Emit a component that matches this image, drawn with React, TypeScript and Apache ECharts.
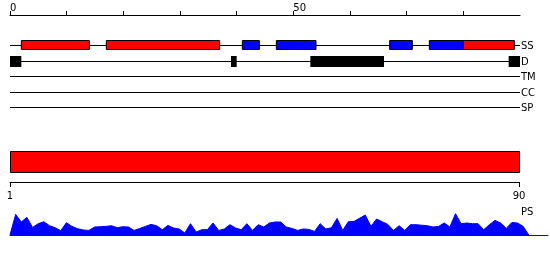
import React, { useEffect, useRef } from "react";
import * as echarts from "echarts";

// ---- data ----
const rulerTicks = [0, 10, 20, 30, 40, 50, 60, 70, 80];
const rulerLabels = [0, 50];
const tracks = ["SS", "D", "TM", "CC", "SP"];
const helices = [
  [2, 14],
  [17, 37],
  [80, 89],
];
const strands = [
  [41, 44],
  [47, 54],
  [67, 71],
  [74, 80],
];
const disorder = [
  [0, 2],
  [39, 40],
  [53, 66],
  [88, 90],
];
const sequenceRange = [1, 90];
const psValues = [
  0, 20.6, 13, 17.6, 7.6, 11.3, 13.3, 9.3, 7.3, 4.3, 12.3, 8.6, 6.3, 5, 4.6, 8,
  8.3, 8.6, 9.3, 7.3, 8.3, 8, 4.6, 6.5, 8.6, 10.6, 9.3, 5.3, 9.6, 7, 6, 2, 11.3,
  3, 5.3, 5.3, 12, 4.6, 6, 10.3, 7, 5.3, 11.3, 4.6, 10.3, 8, 12, 13, 13, 8, 6.6,
  4.6, 6, 5.6, 3.6, 11.3, 6, 7.3, 16.6, 4.6, 13.3, 13.6, 16.8, 20, 8.6, 16, 13.3,
  10.6, 4.6, 9.3, 4.6, 10.3, 10.3, 9.8, 9.3, 8, 8.6, 12, 8, 21.3, 11.3, 12, 11.3,
  11.3, 5.3, 10.3, 14.6, 12, 6.6, 12.6, 12, 8.6, 0,
];

const FONT = "DejaVu Sans";

function featureSeries(
  items: number[][],
  track: string,
  fill: string,
  stroke: string | null,
  half: number
) {
  const ti = tracks.indexOf(track);
  return {
    type: "custom",
    xAxisIndex: 0,
    yAxisIndex: 0,
    encode: { x: [0, 1], y: 2 },
    data: items.map((d) => [d[0], d[1], ti]),
    renderItem: (params: any, api: any) => {
      const a = api.coord([api.value(0), api.value(2)]);
      const b = api.coord([api.value(1), api.value(2)]);
      const c = Math.floor(a[1]);
      if (stroke) {
        return {
          type: "rect",
          shape: { x: a[0], y: c - half + 0.5, width: b[0] - a[0], height: half * 2 - 1 },
          style: { fill, stroke, lineWidth: 1 },
        };
      }
      return {
        type: "rect",
        shape: { x: a[0], y: c - half, width: b[0] - a[0], height: half * 2 + 1 },
        style: { fill },
      };
    },
  };
}

export default function App() {
  const ref = useRef<HTMLDivElement>(null);
  useEffect(() => {
    const chart = echarts.init(ref.current!, null, { renderer: "svg" });
    const option: any = {
      animation: false,
      textStyle: { fontFamily: FONT, fontSize: 10, color: "#000" },
      grid: [
        { left: 10, top: 45.5, width: 510, height: 62 },
        { left: 10, top: 151, width: 509, height: 21 },
        { left: 10, top: 210, width: 538, height: 25 },
      ],
      xAxis: [
        {
          gridIndex: 0,
          type: "value",
          position: "top",
          offset: 30.5,
          min: 0,
          max: 90,
          axisLine: { show: true, onZero: false, lineStyle: { color: "#000", width: 1 } },
          axisTick: {
            show: true,
            customValues: rulerTicks,
            length: 4,
            lineStyle: { color: "#000", width: 1 },
          },
          axisLabel: {
            show: true,
            customValues: rulerLabels,
            align: "left",
            margin: 3,
            color: "#000",
            fontFamily: FONT,
            fontSize: 10,
          },
          splitLine: { show: false },
        },
        {
          gridIndex: 1,
          type: "value",
          position: "bottom",
          offset: 10,
          min: 1,
          max: 90,
          axisLine: { show: true, onZero: false, lineStyle: { color: "#000", width: 1 } },
          axisTick: {
            show: true,
            customValues: sequenceRange,
            length: 5,
            lineStyle: { color: "#000", width: 1 },
          },
          axisLabel: {
            show: true,
            customValues: sequenceRange,
            margin: 8,
            color: "#000",
            fontFamily: FONT,
            fontSize: 10,
          },
          splitLine: { show: false },
        },
        {
          gridIndex: 2,
          type: "value",
          min: 0,
          max: 95.4,
          axisLine: { show: true, onZero: false, lineStyle: { color: "#0000ff", width: 1 } },
          axisTick: { show: false },
          axisLabel: { show: false },
          splitLine: { show: false },
        },
      ],
      yAxis: [
        {
          gridIndex: 0,
          type: "category",
          data: tracks,
          inverse: true,
          boundaryGap: false,
          position: "right",
          axisLine: { show: false },
          axisTick: { show: false },
          axisLabel: {
            show: true,
            interval: 0,
            margin: 1,
            color: "#000",
            fontFamily: FONT,
            fontSize: 10,
          },
          splitLine: {
            show: true,
            interval: 0,
            lineStyle: { color: "#000", width: 1, type: "solid" },
          },
        },
        { gridIndex: 1, type: "value", min: 0, max: 1, show: false },
        { gridIndex: 2, type: "value", min: 0, max: 25, show: false },
      ],
      graphic: [
        {
          type: "text",
          left: 521,
          top: 206,
          style: { text: "PS", fill: "#000", font: `10px "${FONT}"` },
        },
      ],
      series: [
        featureSeries(disorder, "D", "#000000", null, 5),
        featureSeries(helices, "SS", "#ff0000", "#000000", 5),
        featureSeries(strands, "SS", "#0000ff", "#000000", 5),
        {
          type: "custom",
          xAxisIndex: 1,
          yAxisIndex: 1,
          encode: { x: [0, 1] },
          data: [[sequenceRange[0], sequenceRange[1]]],
          renderItem: (params: any, api: any) => {
            const a = api.coord([api.value(0), 0]);
            const b = api.coord([api.value(1), 0]);
            const cs = params.coordSys;
            return {
              type: "rect",
              shape: { x: a[0] + 0.5, y: cs.y + 0.5, width: b[0] - a[0], height: cs.height },
              style: { fill: "#ff0000", stroke: "#000", lineWidth: 1 },
            };
          },
        },
        {
          type: "line",
          xAxisIndex: 2,
          yAxisIndex: 2,
          data: psValues.map((v, i) => [i, v]),
          symbol: "none",
          showSymbol: false,
          lineStyle: { color: "#0000ff", width: 1 },
          areaStyle: { color: "#0000ff", opacity: 1 },
          itemStyle: { color: "#0000ff" },
        },
      ],
    };
    chart.setOption(option);
    return () => chart.dispose();
  }, []);
  return (
    <div
      ref={ref}
      style={{ position: "fixed", left: 0, top: 0, width: 550, height: 260 }}
    />
  );
}
